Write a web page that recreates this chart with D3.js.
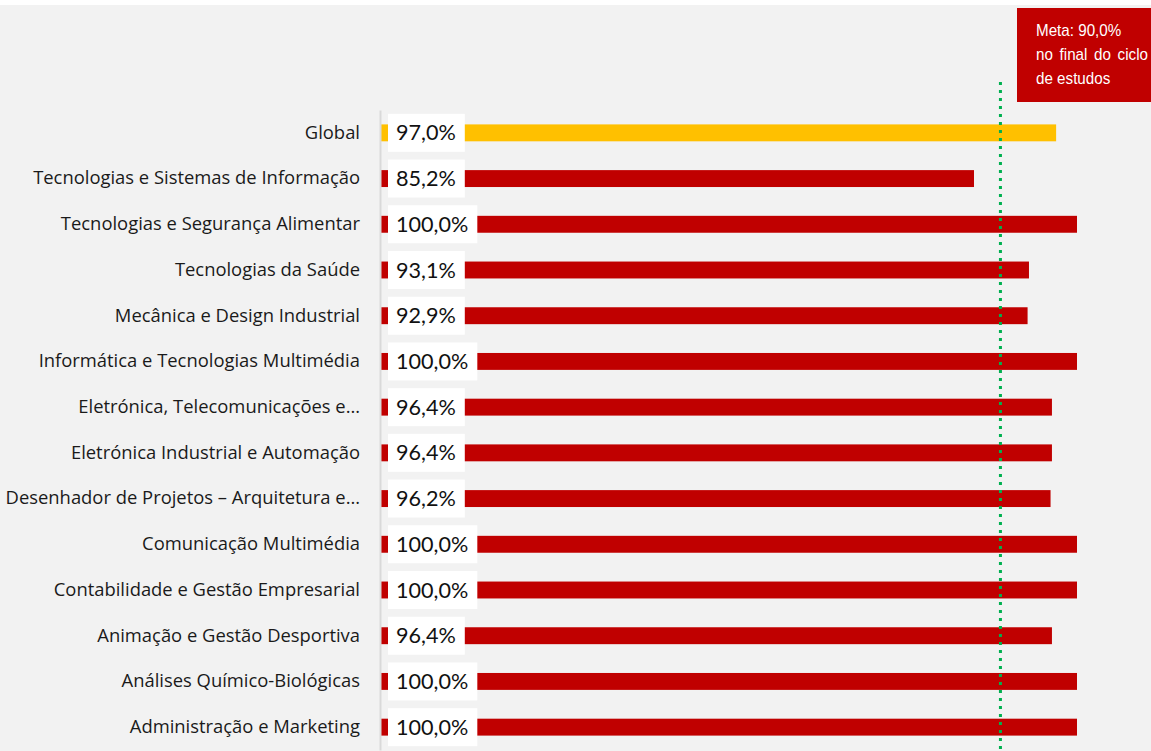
<!DOCTYPE html>
<html>
<head>
<meta charset="utf-8">
<script src="https://cdn.jsdelivr.net/npm/d3@7"></script>
<style>
  body { margin: 0; background: #fff; }
  svg { display: block; }
</style>
</head>
<body>
<svg id="chart"></svg>
<script>
// data
const courses = [
  "Global",
  "Tecnologias e Sistemas de Informação",
  "Tecnologias e Segurança Alimentar",
  "Tecnologias da Saúde",
  "Mecânica e Design Industrial",
  "Informática e Tecnologias Multimédia",
  "Eletrónica, Telecomunicações e…",
  "Eletrónica Industrial e Automação",
  "Desenhador de Projetos – Arquitetura e…",
  "Comunicação Multimédia",
  "Contabilidade e Gestão Empresarial",
  "Animação e Gestão Desportiva",
  "Análises Químico-Biológicas",
  "Administração e Marketing"
];
const rates = [97.0, 85.2, 100.0, 93.1, 92.9, 100.0, 96.4, 96.4, 96.2, 100.0, 100.0, 96.4, 100.0, 100.0];
const metaPos = 89.0;   // where the dotted target line sits
const metaLines = ["Meta: 90,0%", "no final do ciclo", "de estudos"];

const W = 1151, H = 751;
const fmt = v => d3.format(".1f")(v).replace(".", ",") + "%";

const svg = d3.select("#chart").attr("width", W).attr("height", H);

svg.append("rect").attr("x", 0).attr("y", 5).attr("width", W).attr("height", H - 5)
  .attr("fill", "#f2f2f2");

const x = d3.scaleLinear().domain([0, 100]).range([381, 1077]);
const y = d3.scaleBand().domain(courses).range([110, 750])
  .paddingInner(0.63).paddingOuter(0.315);

// bars
svg.append("g").selectAll("rect")
  .data(courses)
  .enter()
  .append("rect")
  .attr("x", x(0))
  .attr("y", d => y(d))
  .attr("width", (d, i) => x(rates[i]) - x(0))
  .attr("height", y.bandwidth())
  .attr("fill", (d, i) => i === 0 ? "#FFC000" : "#C00000");

// category axis
const ax = svg.append("g")
  .attr("transform", "translate(380,0)")
  .call(d3.axisLeft(y).tickSize(0).tickPadding(20));
ax.select(".domain").attr("stroke", "#d9d9d9").attr("stroke-width", 2);
ax.selectAll("text")
  .attr("font-family", "'Open Sans', Lato, sans-serif")
  .attr("font-size", 18.4)
  .attr("fill", "#1a1a1a");

// value labels in white boxes
const lab = svg.append("g").selectAll("g")
  .data(courses)
  .enter()
  .append("g")
  .attr("transform", d => "translate(388," + (y(d) + y.bandwidth() / 2) + ")");
const boxes = lab.append("rect").attr("fill", "#fff");
const txt = lab.append("text")
  .attr("x", 8)
  .attr("dy", "0.35em")
  .attr("font-family", "Lato, 'Open Sans', sans-serif")
  .attr("font-size", 21.6)
  .attr("fill", "#111")
  .text((d, i) => fmt(rates[i]));
boxes.each(function(d, i) {
  const w = txt.nodes()[i].getComputedTextLength();
  d3.select(this).attr("x", 0).attr("y", -19).attr("width", w + 17).attr("height", 38);
});

// target line
svg.append("line")
  .attr("x1", x(metaPos)).attr("x2", x(metaPos))
  .attr("y1", 82).attr("y2", H)
  .attr("stroke", "#00B050")
  .attr("stroke-width", 3)
  .attr("stroke-dasharray", "3,5");

// target note
svg.append("rect")
  .attr("x", 1017).attr("y", 8).attr("width", W - 1017).attr("height", 94)
  .attr("fill", "#C00000");
const squeeze = 0.95;
const noteRight = 112;  // width of the justified middle line
const note = svg.append("g").selectAll("text")
  .data(metaLines)
  .enter()
  .append("text")
  .attr("x", 1036)
  .attr("y", (d, i) => 36 + i * 24)
  .attr("font-family", "'Liberation Sans', Arial, sans-serif")
  .attr("font-size", 16)
  .attr("fill", "#fff")
  .attr("transform", "translate(1036,0) scale(" + squeeze + ",1) translate(-1036,0)")
  .text(d => d);
// justify the middle line by widening the word gaps
note.filter((d, i) => i === 1).each(function(d) {
  const len = this.getComputedTextLength() * squeeze;
  const gaps = d.split(" ").length - 1;
  d3.select(this).attr("word-spacing", Math.max(0, (noteRight - len) / gaps / squeeze));
});
</script>
</body>
</html>
